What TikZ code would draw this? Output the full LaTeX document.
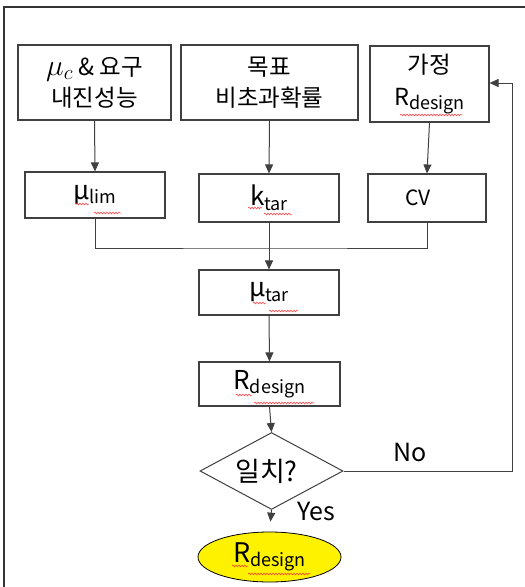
\documentclass[tikz,border=0pt]{standalone}
\usepackage{fontspec}
\setmainfont{Noto Sans CJK KR}
\usetikzlibrary{arrows.meta,shapes.geometric,decorations.pathmorphing}
\newcommand{\subt}[1]{\raisebox{-4.5pt}{\fontsize{18}{18}\selectfont #1}}
\begin{document}
\begin{tikzpicture}[x=1pt,y=-1pt,
  box/.style={draw=black!75,line width=1.1pt,rectangle,inner sep=0pt,align=center},
  conn/.style={draw=black!75,line width=1pt},
  arr/.style={conn,-{Triangle[length=9pt,width=8pt]}},
  spell/.style={draw=red!80,line width=0.5pt,decorate,decoration={snake,segment length=3pt,amplitude=0.9pt}},
  frame/.style={draw=black!80,line width=1.6pt}]
\useasboundingbox (0,0) rectangle (525,587);
\fill[white] (0,0) rectangle (525,587);
\draw[frame] (4,595) -- (4,7) -- (530,7);

\node[box,minimum width=153pt,minimum height=75pt,font=\fontsize{23.5}{31}\selectfont] (A) at (94.5,82.5) {\scalebox{1.2}{$\mu_c$} \& 요구\\내진성능};
\node[box,minimum width=177pt,minimum height=75pt,font=\fontsize{23.5}{31}\selectfont] (B) at (269.5,82.5) {목표\\비초과확률};
\node[box,minimum width=119pt,minimum height=76pt,font=\fontsize{23.5}{32}\selectfont] (C) at (429.5,84) {가정\\R\subt{design}};

\node[box,minimum width=140pt,minimum height=46pt,font=\fontsize{26}{26}\selectfont] (lim) at (95,195) {μ\subt{lim}};
\node[box,minimum width=140pt,minimum height=48pt,font=\fontsize{26}{26}\selectfont] (kt) at (269,198) {k\subt{tar}};
\node[box,minimum width=118pt,minimum height=48pt,font=\fontsize{21}{21}\selectfont] (CV) at (427,198) {\hspace*{-18pt}CV};

\node[box,minimum width=140pt,minimum height=45pt,font=\fontsize{26}{26}\selectfont] (mt) at (269,292.5) {μ\subt{tar}};
\node[box,minimum width=141pt,minimum height=44pt,font=\fontsize{26}{26}\selectfont] (Rd) at (269.5,384) {R\subt{design}};
\node[draw=black!75,line width=1pt,diamond,inner sep=0pt,minimum width=143pt,minimum height=52pt,font=\fontsize{27}{27}\selectfont] (D) at (271.5,471) {\hspace*{-10pt}일치?};
\node[draw=black,line width=0.8pt,ellipse,fill=yellow,inner sep=0pt,minimum width=143pt,minimum height=50pt,font=\fontsize{27}{27}\selectfont] (E) at (269.5,557) {R\subt{design}};

\node[font=\fontsize{25}{25}\selectfont,inner sep=0pt] (no) at (410,452) {No};
\node[font=\fontsize{25}{25}\selectfont,inner sep=0pt] (yes) at (316,511) {Yes};

\coordinate (jn) at (269,248);
\coordinate (fb1) at (512,471);
\coordinate (fb2) at (512,83);

\draw[arr] (A.south) -- (lim.north);
\draw[arr] (B.south) -- (kt.north);
\draw[arr] (C.south) -- (CV.north);
\draw[conn] (lim.south) |- (jn) -| (CV.south);
\draw[arr] (kt.south) -- (mt.north);
\draw[arr] (mt.south) -- (Rd.north);
\draw[arr] (Rd.south) -- (D.north);
\draw[arr,shorten >=10pt] (D.south) -- (E.north);
\draw[arr] (D.east) -- (fb1) -- (fb2) -- (C.east |- fb2);

% spell-check underlines
\draw[spell] (400,115) -- (462,115);
\draw[spell] (76,204) -- (89,204);
\draw[spell] (94,213) -- (121,213);
\draw[spell] (248,208) -- (262,208);
\draw[spell] (264,214) -- (292,214);
\draw[spell] (253,303) -- (266,303);
\draw[spell] (269,311) -- (298,311);
\draw[spell] (236,395) -- (252,395);
\draw[spell] (254,403) -- (314,403);
\draw[spell] (232,566) -- (248,566);
\draw[spell] (248,574) -- (310,574);
\end{tikzpicture}
\end{document}
